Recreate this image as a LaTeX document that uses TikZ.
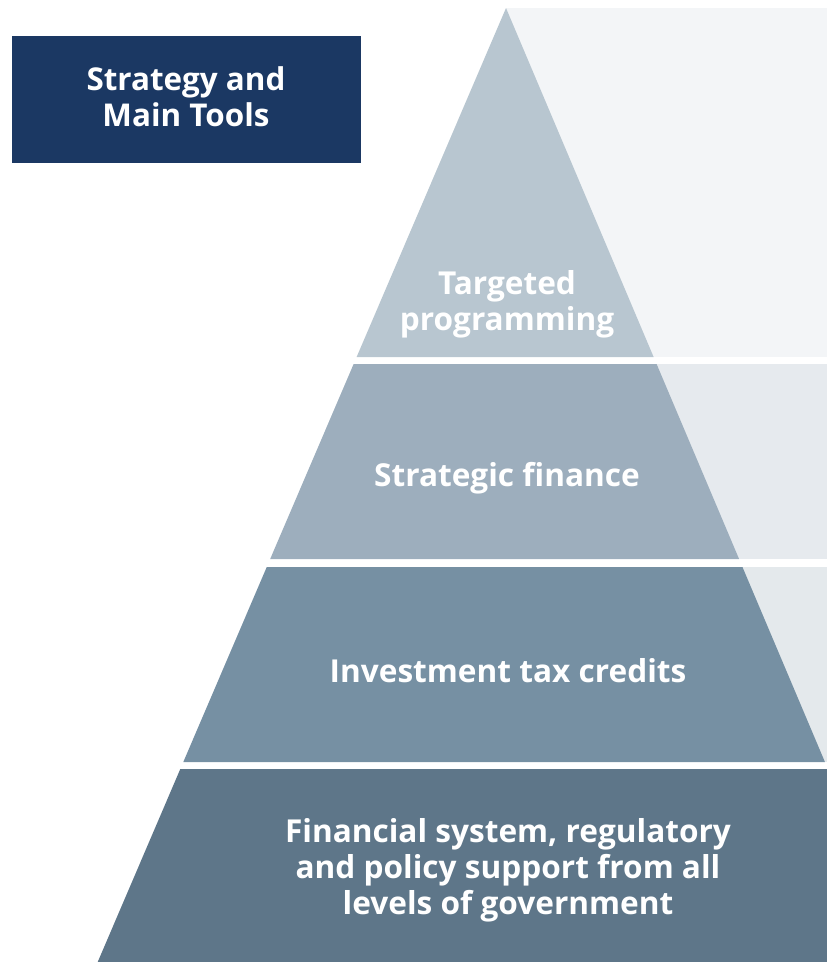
\documentclass[tikz,border=0pt]{standalone}
\usepackage{fontspec}
\setmainfont{Open Sans}
\definecolor{titlebg}{HTML}{1B3863}
\definecolor{tierA}{HTML}{B8C6D0}
\definecolor{tierB}{HTML}{9DAEBD}
\definecolor{tierC}{HTML}{7690A3}
\definecolor{tierD}{HTML}{5E7689}
\definecolor{panelA}{HTML}{F3F5F7}
\definecolor{panelB}{HTML}{E6EAEE}
\definecolor{panelC}{HTML}{E4E9EC}
\begin{document}
\begin{tikzpicture}[x=1pt,y=-1pt,
  tiertext/.style={text=white,font=\fontsize{31.6}{36}\selectfont\bfseries,align=center},
  titletext/.style={text=white,font=\fontsize{31.4}{36}\selectfont\bfseries,align=center}]
\useasboundingbox (0,0) rectangle (827,962);
\clip (0,0) rectangle (827,962);
% pyramid edges: left and right x at a given height
\def\xl#1{506-0.428*(#1-8)}
\def\xr#1{506+0.423*(#1-8)}
% light panels behind the right side of the pyramid
\fill[panelA] (506,8) rectangle (827,357);
\fill[panelB] (600,364) rectangle (827,559);
\fill[panelC] (700,567) rectangle (827,762);
% pyramid tiers
\fill[tierA] (506,8) -- ({\xr{357}},357) -- ({\xl{357}},357) -- cycle;
\fill[tierB] ({\xl{364}},364) -- ({\xr{364}},364) -- ({\xr{559}},559) -- ({\xl{559}},559) -- cycle;
\fill[tierC] ({\xl{567}},567) -- ({\xr{567}},567) -- ({\xr{762}},762) -- ({\xl{762}},762) -- cycle;
\fill[tierD] ({\xl{769}},769) -- ({\xr{769}},769) -- ({\xr{962}},962) -- ({\xl{962}},962) -- cycle;
% title box
\fill[titlebg] (12,36) rectangle (361,163);
\node[titletext] (title) at (186,97) {Strategy and\\Main Tools};
% tier labels
\node[tiertext] (targeted) at (507,304) {Targeted\\programming};
\node[tiertext] (finance) at (507,478) {Strategic finance};
\node[tiertext] (credits) at (508,671) {Investment tax credits};
\node[tiertext] (support) at (508,870) {Financial system, regulatory\\and policy support from all\\levels of government};
\end{tikzpicture}
\end{document}
